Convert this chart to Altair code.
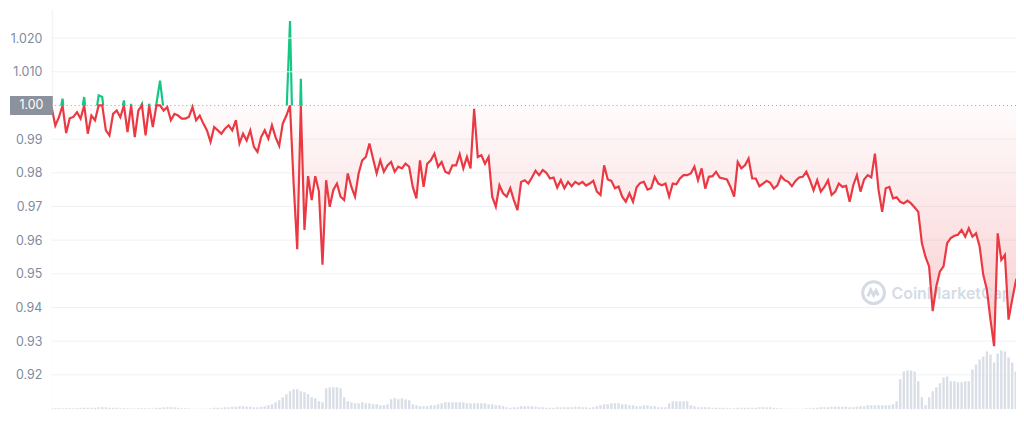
import json
import altair as alt
import pandas as pd

# ---- data (4-hour steps, day 0 = Apr 1 00:00) ----
start_day = -5 / 6
step_day = 1 / 6

price = [
    0.9993, 0.9940, 0.9965, 1.0020, 0.9918, 0.9962, 0.9966, 0.9980, 0.9961, 1.0025,
    0.9916, 0.9970, 0.9956, 1.0030, 1.0025, 0.9926, 0.9911, 0.9975, 0.9985, 0.9965,
    1.0015, 0.9921, 1.0005, 0.9906, 0.9985, 1.0005, 0.9911, 1.0005, 0.9936, 1.0005,
    1.0074, 0.9985, 0.9995, 0.9956, 0.9975, 0.9970, 0.9961, 0.9961, 0.9966, 0.9995,
    0.9956, 0.9970, 0.9946, 0.9926, 0.9892, 0.9936, 0.9926, 0.9916, 0.9931, 0.9941,
    0.9926, 0.9956, 0.9887, 0.9916, 0.9896, 0.9926, 0.9877, 0.9862, 0.9906, 0.9926,
    0.9901, 0.9941, 0.9906, 0.9880, 0.9946, 0.9970, 1.0251, 0.9768, 0.9573, 1.0079,
    0.9630, 0.9790, 0.9719, 0.9790, 0.9745, 0.9527, 0.9778, 0.9699, 0.9749, 0.9768,
    0.9729, 0.9719, 0.9798, 0.9758, 0.9729, 0.9798, 0.9837, 0.9847, 0.9887, 0.9842,
    0.9798, 0.9837, 0.9803, 0.9822, 0.9832, 0.9803, 0.9818, 0.9813, 0.9827, 0.9818,
    0.9758, 0.9724, 0.9837, 0.9758, 0.9827, 0.9837, 0.9857, 0.9818, 0.9832, 0.9803,
    0.9798, 0.9822, 0.9822, 0.9855, 0.9813, 0.9847, 0.9813, 0.9990, 0.9847, 0.9852,
    0.9827, 0.9847, 0.9729, 0.9699, 0.9763, 0.9739, 0.9729, 0.9754, 0.9719, 0.9689,
    0.9773, 0.9778, 0.9768, 0.9786, 0.9806, 0.9793, 0.9808, 0.9800, 0.9783, 0.9786,
    0.9756, 0.9778, 0.9754, 0.9773, 0.9760, 0.9773, 0.9766, 0.9773, 0.9762, 0.9768,
    0.9776, 0.9744, 0.9734, 0.9822, 0.9780, 0.9776, 0.9754, 0.9759, 0.9729, 0.9714,
    0.9739, 0.9714, 0.9757, 0.9770, 0.9773, 0.9750, 0.9754, 0.9788, 0.9768, 0.9763,
    0.9768, 0.9729, 0.9768, 0.9766, 0.9783, 0.9793, 0.9793, 0.9798, 0.9818, 0.9778,
    0.9813, 0.9753, 0.9788, 0.9790, 0.9803, 0.9786, 0.9783, 0.9780, 0.9758, 0.9729,
    0.9832, 0.9813, 0.9822, 0.9842, 0.9783, 0.9783, 0.9760, 0.9768, 0.9776, 0.9770,
    0.9753, 0.9763, 0.9790, 0.9778, 0.9773, 0.9760, 0.9776, 0.9786, 0.9788, 0.9803,
    0.9778, 0.9748, 0.9778, 0.9744, 0.9758, 0.9778, 0.9734, 0.9744, 0.9768, 0.9758,
    0.9761, 0.9714, 0.9763, 0.9793, 0.9744, 0.9780, 0.9793, 0.9786, 0.9857, 0.9749,
    0.9684, 0.9754, 0.9758, 0.9724, 0.9727, 0.9714, 0.9709, 0.9717, 0.9709, 0.9697,
    0.9684, 0.9591, 0.9550, 0.9522, 0.9389, 0.9463, 0.9507, 0.9522, 0.9591, 0.9606,
    0.9613, 0.9616, 0.9630, 0.9610, 0.9635, 0.9610, 0.9620, 0.9581, 0.9497, 0.9453,
    0.9364, 0.9285, 0.9620, 0.9541, 0.9556, 0.9364, 0.9423, 0.9477, 0.9453,
]

volume = [
    1, 1, 1, 1, 1, 1, 1, 1, 1.5, 1.5,
    1.5, 1.5, 1.5, 2, 2, 2, 1.5, 1.5, 1.5, 1,
    1, 1, 0.8, 0.8, 1, 1, 1, 1, 0.8, 1.5,
    1.5, 2, 2, 2, 2, 1.5, 1, 1, 0.8, 0.5,
    0.5, 0.5, 0.5, 0.5, 1, 1.5, 1.5, 1.5, 2, 2,
    2.5, 2.5, 3, 3, 2.5, 2.5, 2, 2, 2.5, 3,
    4, 5, 7, 9, 12, 15, 18, 20, 20, 18,
    17, 15, 12, 11, 8, 7, 21, 22, 22, 22,
    21, 12, 8, 7, 6, 6, 7, 6, 6, 5,
    5, 4, 4, 5, 10, 11, 10, 11, 10, 9,
    5, 4, 3, 3, 3, 4, 4, 5, 6, 7,
    7, 7, 7, 7, 7, 6, 6, 6, 6, 6,
    6, 5, 5, 4, 4, 3, 2, 1.5, 2, 2,
    3, 3, 3, 3, 2.5, 2, 2, 1.5, 1.5, 1.5,
    2, 2, 2, 2, 2, 2.5, 2.5, 2, 2, 1.5,
    2, 3, 4, 5, 5, 6, 6, 6, 5, 5,
    4, 4, 3, 3, 4, 4, 3, 3, 2, 2,
    2, 6, 8, 8, 8, 8, 8, 4, 3, 2,
    2, 2, 2, 1.5, 1.5, 1.5, 1.5, 1, 1, 1,
    1.5, 1.5, 1.5, 1.5, 1.5, 1.5, 2, 2, 2, 2,
    1.5, 1, 1, 0.5, 0.5, 0.5, 0.5, 0.5, 0.5, 1,
    1, 1.5, 1.5, 2, 2, 2, 2.5, 2.5, 2.5, 2.5,
    2.5, 2, 2, 2.5, 3, 3, 4, 4, 4, 4,
    4, 4, 4, 5, 8, 30, 38, 39, 39, 38,
    28, 12, 4, 12, 18, 22, 26, 32, 33, 28,
    28, 27, 27, 28, 28, 40, 45, 50, 53, 58,
    55, 47, 56, 59, 58, 52, 47, 38, 33,
]

tick_days = [0, 4, 8, 12, 16, 20, 24, 30, 34, 38, 42]
tick_labels = ["1", "5", "9", "13", "17", "21", "25", "May", "4", "8", "12"]
y_ticks = [0.92, 0.93, 0.94, 0.95, 0.96, 0.97, 0.98, 0.99, 1.01, 1.02]
peg = 1.0

days = [start_day + i * step_day for i in range(len(price))]
df = pd.DataFrame({"day": days, "price": price, "volume": volume})
df["below"] = df["price"].clip(upper=peg)
one = pd.DataFrame({"k": [0]})

X_DOMAIN = [-0.8276, 43.678]
Y_DOMAIN = [0.90976, 1.0287]

xs = alt.Scale(domain=X_DOMAIN, nice=False, zero=False)
ys = alt.Scale(domain=Y_DOMAIN, nice=False, zero=False)

RED = "#ea3943"
GREEN = "#16c784"
FONT = "Inter"
WM = "#d5dbe5"

x_axis = alt.Axis(
    values=tick_days,
    labelExpr=f"{json.dumps(tick_labels)}[indexof({json.dumps(tick_days)}, datum.value)]",
    grid=False,
    domain=True,
    domainColor="#e3e6eb",
    ticks=True,
    tickColor="#a3a9b5",
    tickSize=4,
    labelColor={"expr": "datum.value == 30 ? '#58667e' : '#808a9d'"},
    labelFontWeight={"expr": "datum.value == 30 ? 'bold' : 'normal'"},
    labelFontSize=12,
    labelFont=FONT,
    labelPadding=6,
    title=None,
)
X = alt.X("day:Q", scale=xs, axis=x_axis)
Xn = alt.X("day:Q", scale=xs, axis=None)

y_axis = alt.Axis(
    values=y_ticks,
    labelExpr="datum.value > 1.005 ? format(datum.value, '.3f') : format(datum.value, '.2f')",
    grid=False,
    ticks=False,
    domain=True,
    domainColor="#eef0f3",
    labelColor="#808a9d",
    labelFontSize=12.5,
    labelFont=FONT,
    labelPadding=10,
    title=None,
)

green = alt.Chart(df).mark_line(color=GREEN, strokeWidth=2.2, clip=True).encode(
    x=X, y=alt.Y("price:Q", scale=ys, axis=None)
)

mask = alt.Chart(one).mark_rect(color="white").encode(
    x=alt.XDatum(X_DOMAIN[0], scale=xs),
    x2=alt.X2Datum(X_DOMAIN[1]),
    y=alt.YDatum(peg, scale=ys, axis=None),
    y2=alt.Y2Datum(Y_DOMAIN[0]),
)

grid = alt.Chart(pd.DataFrame({"g": y_ticks})).mark_rule(
    color="#eff1f4", strokeWidth=1
).encode(y=alt.Y("g:Q", scale=ys, axis=y_axis))

vol = alt.Chart(df).mark_rule(color="#d9dee7", strokeWidth=2.4, clip=True).encode(
    x=Xn,
    y=alt.Y("volume:Q", scale=alt.Scale(domain=[0, 402], nice=False, zero=True), axis=None),
    y2=alt.Y2Datum(0),
)

grad = alt.Gradient(
    gradient="linear",
    x1=0, x2=0, y1=0, y2=1,
    stops=[
        alt.GradientStop(color="rgba(234,57,67,0.02)", offset=0),
        alt.GradientStop(color="rgba(234,57,67,0.26)", offset=1),
    ],
)
area = alt.Chart(df).mark_area(color=grad, clip=True).encode(
    x=Xn,
    y=alt.Y("below:Q", scale=ys, axis=None),
    y2=alt.Y2Datum(peg),
)

dotted = alt.Chart(one).mark_rule(
    color="#9aa1ad", strokeDash=[1, 3], strokeWidth=1
).encode(y=alt.YDatum(peg, scale=ys, axis=None))

wm_logo = alt.Chart(one).mark_point(
    shape="circle", size=480, filled=False, strokeWidth=3, color=WM, opacity=1
).encode(x=alt.value(825), y=alt.value(285))
wm_m = alt.Chart(one).mark_point(
    shape="M -0.7 0.45 L -0.35 -0.35 L 0 0.3 L 0.3 -0.25 L 0.6 0.35",
    size=260, filled=False, strokeWidth=3, color=WM, opacity=1,
).encode(x=alt.value(825), y=alt.value(285))
wm_text = alt.Chart(one).mark_text(
    text="CoinMarketCap", align="left", baseline="middle", fontSize=16,
    fontWeight=600, color=WM, font=FONT,
).encode(x=alt.value(843), y=alt.value(286))

red = alt.Chart(df).mark_line(color=RED, strokeWidth=2.2, clip=True).encode(
    x=X, y=alt.Y("below:Q", scale=ys, axis=None)
)

box = alt.Chart(one).mark_point(
    shape="M -1 -0.44 L 1 -0.44 L 1 0.44 L -1 0.44 Z",
    size=1849, filled=True, color="#8c929d", opacity=1, strokeWidth=0,
).encode(x=alt.value(-20.5), y=alt.YDatum(peg, scale=ys, axis=None))
box_text = alt.Chart(one).mark_text(
    text="1.00", color="white", fontSize=12.5, font=FONT, align="center", baseline="middle"
).encode(x=alt.value(-20.5), y=alt.YDatum(peg, scale=ys, axis=None))

chart = (
    alt.layer(green, mask, grid, vol, area, dotted, wm_logo, wm_m, wm_text, red, box, box_text)
    .resolve_scale(y="independent")
    .properties(
        width=968,
        height=402,
        autosize=alt.AutoSizeParams(type="none"),
        padding={"left": 44, "top": 0, "right": 0, "bottom": 22},
        background="white",
    )
    .configure_view(stroke=None)
)

chart.save("out.html", embed_options={"renderer": "svg", "actions": False})
